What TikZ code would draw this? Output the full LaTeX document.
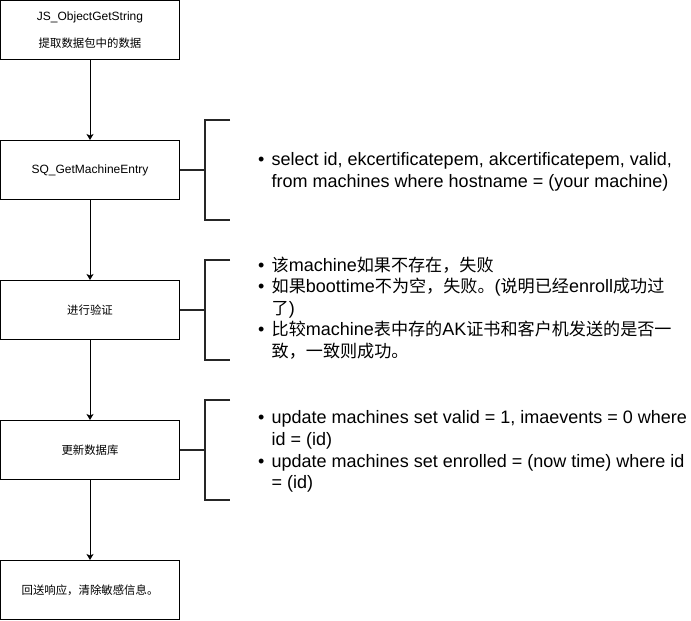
\documentclass[tikz,border=0pt]{standalone}
\usepackage{fontspec}
\setmainfont{Liberation Sans}
\newfontfamily\cjk{Noto Sans CJK SC}[Scale=0.95]
\newcommand\zh[1]{{\cjk #1}}
\usetikzlibrary{arrows.meta}
\begin{document}
\begin{tikzpicture}[x=1pt,y=-1pt,
  box/.style={draw, line width=1pt, minimum width=179pt, minimum height=59pt,
    inner sep=0pt, align=center, font=\fontsize{12}{27}\selectfont},
  flow/.style={line width=1pt, -{Stealth[length=6pt,width=7pt,inset=1.5pt]}},
  brk/.style={line width=2pt, black!85},
  note/.style={anchor=west, inner sep=0pt, font=\fontsize{18}{21.6}\selectfont}]
\useasboundingbox (0,0) rectangle (691,621);

\node[box] (b1) at (90,30) {JS\_ObjectGetString\\\zh{提取数据包中的数据}};
\node[box] (b2) at (90,170) {SQ\_GetMachineEntry};
\node[box] (b3) at (90,310) {\zh{进行验证}};
\node[box] (b4) at (90,450) {\zh{更新数据库}};
\node[box] (b5) at (90,590) {\zh{回送响应，清除敏感信息。}};

\draw[flow] (b1) -- (b2);
\draw[flow] (b2) -- (b3);
\draw[flow] (b3) -- (b4);
\draw[flow] (b4) -- (b5);

% brackets
\foreach \i/\b/\y in {1/b2/170, 2/b3/310, 3/b4/450}{
  \coordinate (m\i) at (205,\y);
  \coordinate (t\i) at (230,\y-50);
  \coordinate (u\i) at (230,\y+50);
  \draw[brk] (\b.east) -- (m\i);
  \draw[brk] (t\i) -- (205,\y-50) -- (205,\y+50) -- (u\i);
}

\node[note] (n1) at (258,172) {\begin{tabular}{@{}l@{\hspace{7.2pt}}l@{}}
\textbullet & select id, ekcertificatepem, akcertificatepem, valid,\\
 & from machines where hostname = (your machine)
\end{tabular}};

\node[note] (n2) at (258,310) {\begin{tabular}{@{}l@{\hspace{7.2pt}}l@{}}
\textbullet & \zh{该}machine\zh{如果不存在，失败}\\
\textbullet & \zh{如果}boottime\zh{不为空，失败。}(\zh{说明已经}enroll\zh{成功过}\\
 & \zh{了})\\
\textbullet & \zh{比较}machine\zh{表中存的}AK\zh{证书和客户机发送的是否一}\\
 & \zh{致，一致则成功。}
\end{tabular}};

\node[note] (n3) at (258,452) {\begin{tabular}{@{}l@{\hspace{7.2pt}}l@{}}
\textbullet & update machines set valid = 1, imaevents = 0 where\\
 & id = (id)\\
\textbullet & update machines set enrolled = (now time) where id\\
 & = (id)
\end{tabular}};
\end{tikzpicture}
\end{document}
